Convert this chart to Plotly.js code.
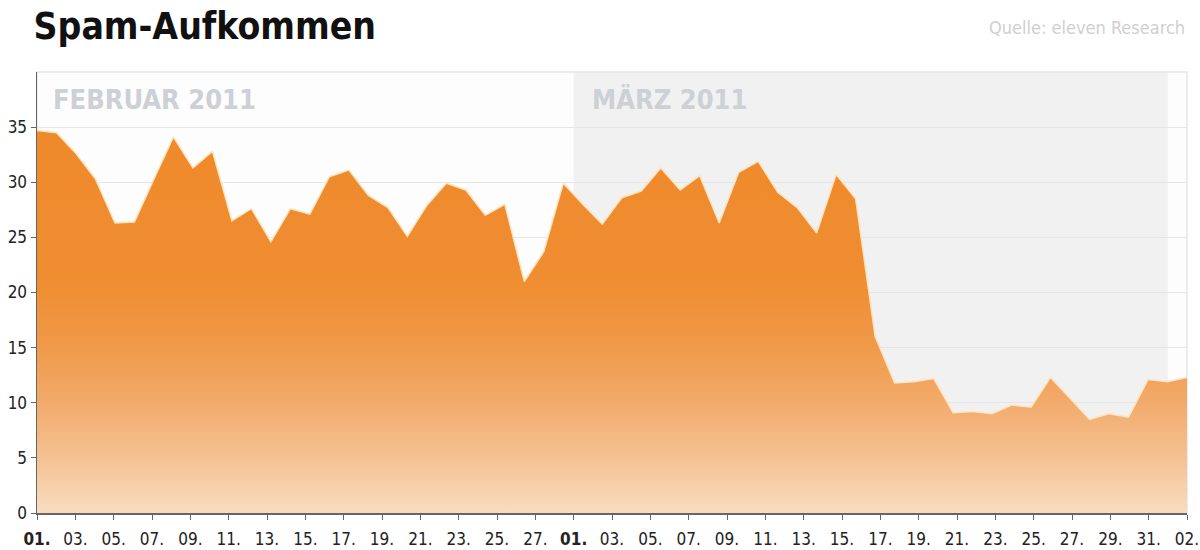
<!DOCTYPE html>
<html>
<head>
<meta charset="utf-8">
<script src="https://cdn.plot.ly/plotly-3.0.1.min.js"></script>
<style>html,body{margin:0;padding:0;background:#fff;}#chart{width:1200px;height:550px;}</style>
</head>
<body>
<div id="chart"></div>
<script>
// Spam volume, one value per reading (Feb 2011 – start of Apr 2011)
const spam = [34.7, 34.5, 32.6, 30.3, 26.3, 26.4, 30.3, 34.1, 31.3, 32.8,
              26.5, 27.6, 24.6, 27.6, 27.1, 30.5, 31.1, 28.8, 27.7, 25.1,
              27.9, 29.9, 29.3, 27.0, 28.0, 21.0, 23.7, 29.9, 28.0, 26.2,
              28.6, 29.2, 31.3, 29.3, 30.6, 26.3, 30.9, 31.9, 29.1, 27.7,
              25.4, 30.7, 28.5, 16.0, 11.8, 11.9, 12.2, 9.1, 9.2, 9.0,
              9.8, 9.6, 12.3, 10.4, 8.5, 9.0, 8.7, 12.1, 11.9, 12.3];
// Calendar days on the date axis (day 0 = 01. Feb, day 28 = 01. März, day 60 = 02. Apr)
const dayTicks = [0,2,4,6,8,10,12,14,16,18,20,22,24,26,28,30,32,34,36,38,40,42,44,46,48,50,52,54,56,58,60];
const dayLabels = ['<b>01.</b>','03.','05.','07.','09.','11.','13.','15.','17.','19.','21.','23.','25.','27.',
                   '<b>01.</b>','03.','05.','07.','09.','11.','13.','15.','17.','19.','21.','23.','25.','27.','29.','31.','02.'];
const yTicks = [0,5,10,15,20,25,30,35];
const months = ['FEBRUAR 2011', 'MÄRZ 2011'];
const monthStart = [0, 28];
const monthEnd = [28, 59];

const FONT = 'DejaVu Sans Condensed, Liberation Sans Narrow, Arial Narrow, sans-serif';

const trace = {
  type: 'scatter',
  mode: 'lines',
  x: spam.map((_, i) => i),
  y: spam,
  xaxis: 'x2',
  yaxis: 'y',
  fill: 'tozeroy',
  line: {color: 'rgba(255,228,190,0.95)', width: 1.5},
  fillgradient: {
    type: 'vertical',
    start: 0,
    stop: 35,
    colorscale: [[0, '#f8dcc0'], [0.14, '#f5c293'], [0.29, '#f2aa6a'], [0.43, '#f09a4a'], [0.6, '#ef8d31'], [1, '#ef8a2b']]
  },
  hoverinfo: 'y'
};

const layout = {
  width: 1200, height: 550,
  margin: {l: 37, r: 13, t: 72, b: 37},
  paper_bgcolor: '#ffffff',
  plot_bgcolor: '#fdfdfd',
  showlegend: false,
  title: {
    text: '<b>Spam-Aufkommen</b>',
    font: {family: FONT, size: 37, color: '#111'},
    x: 0.028, xref: 'container', xanchor: 'left',
    y: 0.952, yref: 'container', yanchor: 'middle'
  },
  xaxis: {
    range: [0, 60],
    tickvals: dayTicks,
    ticktext: dayLabels,
    tickfont: {family: FONT, size: 17, color: '#222'},
    ticks: 'outside', ticklen: 5, tickcolor: '#666',
    ticklabelstandoff: 5,
    ticklabeloverflow: 'allow',
    showline: true, linecolor: '#666', linewidth: 1.5,
    showgrid: false, zeroline: false, fixedrange: true
  },
  xaxis2: {
    range: [0, spam.length - 1],
    overlaying: 'x',
    showticklabels: false, showgrid: false, showline: false, zeroline: false, ticks: ''
  },
  yaxis: {
    range: [0, 40],
    tickvals: yTicks,
    tickfont: {family: FONT, size: 17, color: '#222'},
    ticks: 'outside', ticklen: 5, tickcolor: '#666',
    showline: true, linecolor: '#666', linewidth: 1.5,
    gridcolor: '#e6e6e6', gridwidth: 1,
    zeroline: false, fixedrange: true
  },
  shapes: [
    {type: 'rect', xref: 'x', yref: 'paper', x0: monthStart[1], x1: monthEnd[1], y0: 0, y1: 1,
     fillcolor: '#f1f1f1', line: {width: 0}, layer: 'below'},
    {type: 'rect', xref: 'paper', yref: 'paper', x0: 0, x1: 1, y0: 0, y1: 1,
     fillcolor: 'rgba(0,0,0,0)', line: {color: '#e6e6e6', width: 1.5}, layer: 'below'}
  ],
  annotations: [
    {text: '<b>' + months[0] + '</b>', xref: 'x', yref: 'paper', x: monthStart[0], y: 0.937,
     xanchor: 'left', yanchor: 'middle', xshift: 14, showarrow: false,
     font: {family: FONT, size: 27, color: '#cdd0d4'}},
    {text: '<b>' + months[1] + '</b>', xref: 'x', yref: 'paper', x: monthStart[1], y: 0.937,
     xanchor: 'left', yanchor: 'middle', xshift: 16, showarrow: false,
     font: {family: FONT, size: 27, color: '#cdd0d4'}},
    {text: 'Quelle: eleven Research', xref: 'paper', yref: 'paper', x: 1, y: 1.1,
     xanchor: 'right', yanchor: 'middle', showarrow: false,
     font: {family: FONT, size: 18, color: '#cfcfcf'}}
  ]
};

Plotly.newPlot('chart', [trace], layout, {displayModeBar: false, staticPlot: true});
</script>
</body>
</html>
